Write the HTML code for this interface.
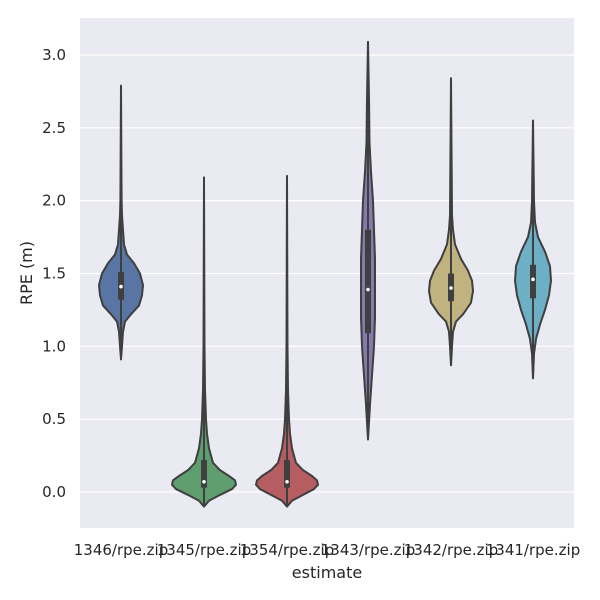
<!DOCTYPE html>
<html><head><meta charset="utf-8"><style>body{margin:0;background:#fff}svg{display:block}text{font-family:"DejaVu Sans","Liberation Sans",sans-serif;fill:#262626}</style></head>
<body>
<svg id="s" width="600" height="600" viewBox="0 0 600 600">
<rect x="80" y="18" width="494" height="510" fill="#eaeaf2"/>
<g id="grid" stroke="#fff" stroke-width="1.2"></g>
<g id="v"></g>
<g id="lab" font-size="15"></g>
<text x="327" y="578" font-size="16" text-anchor="middle">estimate</text>
<text transform="translate(32,273) rotate(-90)" font-size="16" text-anchor="middle">RPE (m)</text>
</svg>
<script>
const Y=v=>492-145.67*v;
const ns="http://www.w3.org/2000/svg";
function el(p,t,a,txt){const e=document.createElementNS(ns,t);for(const k in a)e.setAttribute(k,a[k]);if(txt)e.textContent=txt;document.getElementById(p).appendChild(e);}
for(let i=0;i<=6;i++){const v=i*0.5,y=Y(v);el('grid','line',{x1:80,x2:574,y1:y,y2:y});el('lab','text',{x:66,y:y+5,'text-anchor':'end'},v.toFixed(1));}
const V=[
{c:121,col:"#5975a4",n:"1346/rpe.zip",p:[[0.91,0],[1.0,1],[1.1,2],[1.17,4],[1.22,10],[1.28,18],[1.35,21],[1.42,22],[1.5,19],[1.57,13],[1.63,6],[1.7,3],[1.8,2],[1.9,1],[2.0,0.6],[2.79,0]],b:[1.32,1.51,1.41]},
{c:204,col:"#5f9e6e",n:"1345/rpe.zip",p:[[-0.1,0],[-0.06,5],[-0.02,16],[0.02,28],[0.05,32],[0.08,31],[0.11,25],[0.15,16],[0.2,9],[0.3,5],[0.4,3],[0.5,2],[0.7,1],[1.0,0.5],[2.16,0]],b:[0.03,0.22,0.07]},
{c:287,col:"#b55d60",n:"1354/rpe.zip",p:[[-0.1,0],[-0.06,5],[-0.02,16],[0.02,27],[0.05,31],[0.08,30],[0.11,25],[0.15,16],[0.2,9],[0.3,5],[0.4,3],[0.5,2],[0.7,1],[1.0,0.5],[2.17,0]],b:[0.03,0.22,0.07]},
{c:368,col:"#857aab",n:"1343/rpe.zip",p:[[0.36,0],[0.6,2],[0.8,4],[1.0,6],[1.2,7],[1.4,7],[1.6,7],[1.8,6],[2.0,5],[2.2,3],[2.4,1.5],[2.7,1],[3.09,0]],b:[1.09,1.8,1.39]},
{c:451,col:"#c1b37f",n:"1342/rpe.zip",p:[[0.87,0],[1.0,1],[1.1,2],[1.17,5],[1.22,12],[1.3,20],[1.38,22],[1.45,21],[1.52,17],[1.6,10],[1.7,4],[1.8,2],[1.9,1],[2.84,0]],b:[1.31,1.5,1.4]},
{c:533,col:"#6dafc4",n:"1341/rpe.zip",p:[[0.78,0],[0.95,1],[1.05,3],[1.15,7],[1.25,12],[1.35,16],[1.45,18],[1.55,17],[1.65,12],[1.75,5],[1.85,2],[2.0,1],[2.55,0]],b:[1.33,1.56,1.46]}];
V.forEach(o=>{
 let L=o.p.map(q=>(o.c+q[1])+","+Y(q[0]));let R=o.p.slice().reverse().map(q=>(o.c-q[1])+","+Y(q[0]));
 el('v','polygon',{points:L.concat(R).join(" "),fill:o.col,stroke:"#3f3f3f","stroke-width":2,"stroke-linejoin":"round"});
 const mn=o.p[0][0],mx=o.p[o.p.length-1][0];
 el('v','line',{x1:o.c,x2:o.c,y1:Y(mn),y2:Y(mx),stroke:"#3f3f3f","stroke-width":2});
 el('v','line',{x1:o.c,x2:o.c,y1:Y(o.b[0]),y2:Y(o.b[1]),stroke:"#3f3f3f","stroke-width":6});
 el('v','circle',{cx:o.c,cy:Y(o.b[2]),r:1.8,fill:"#fff"});
 el('lab','text',{x:o.c,y:555,'text-anchor':'middle'},o.n);
});
</script>
</body></html>
